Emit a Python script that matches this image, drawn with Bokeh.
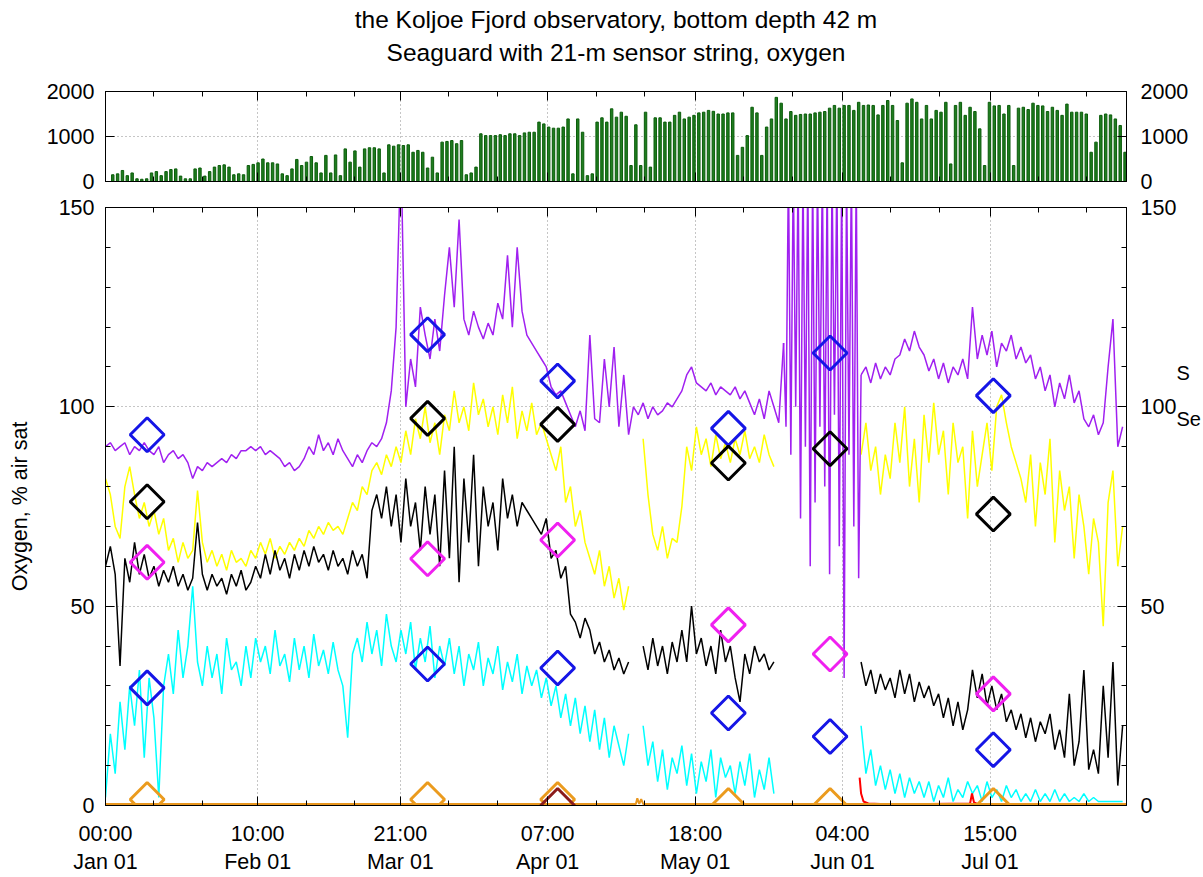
import numpy as np
from bokeh.plotting import figure
from bokeh.models import Range1d, LinearAxis, FixedTicker, Title, CustomJSTickFormatter
from bokeh.layouts import column
from bokeh.embed import file_html
from bokeh.resources import INLINE

nan = float("nan")
FONT = "Liberation Sans"

# ---------------- data ----------------
# time axis in days since Jan 01 00:00 (leap year)
tick_days = [0.0, 31 + 10/24, 60 + 21/24, 91 + 7/24, 121 + 18/24, 152 + 4/24, 182 + 15/24]
tick_labels = ["00:00\nJan 01", "10:00\nFeb 01", "21:00\nMar 01", "07:00\nApr 01",
               "18:00\nMay 01", "04:00\nJun 01", "15:00\nJul 01"]
minor_days = [d + k for d in tick_days for k in (10, 20)]

days = list(range(211))

purple = [
    90, 91, 89, 90, 91, 88, 90, 89, 91, 89,
    88, 90, 86, 88, 89, 87, 88, 86, 82, 85,
    84, 86, 85, 86, 87, 86, 88, 87, 89, 89,
    90, 89, 90, 88, 89, 88, 87, 85, 86, 84,
    85, 87, 90, 88, 93, 89, 91, 88, 92, 89,
    87, 85, 88, 86, 89, 91, 90, 92, 96, 104,
    120, 165, 100, 112, 105, 125, 118, 112, 122, 114,
    128, 140, 125, 147, 122, 118, 124, 120, 117, 121,
    118, 126, 122, 138, 120, 140, 124, 118, 116, 114,
    112, 110, 105, 103, 104, 101, 98, 95, 99, 94,
    118, 97, 96, 112, 100, 115, 95, 108, 93, 100,
    98, 101, 97, 100, 98, 99, 101, 100, 102, 104,
    108, 110, 106, 105, 104, 106, 103, 105, 104, 103,
    105, 102, 104, 101, 98, 102, 97, 104, 100, 96,
    116, nan, nan, nan, nan, nan, nan, nan, nan, nan,
    nan, nan, nan, nan, nan, nan,
    108, 110, 106, 111,
    107, 110, 108, 112, 113, 117, 114, 119, 115, 113,
    109, 112, 107, 111, 106, 110, 108, 112, 107, 125,
    112, 118, 113, 119, 110, 116, 114, 118, 112, 115,
    111, 113, 107, 110, 104, 108, 100, 106, 102, 108,
    101, 104, 97, 95, 98, 93, 96, 110, 122, 90,
    95]

# strongly oscillating stretch of the purple record, half-day samples from day 140 to 156
burst_day = [140 + 0.5 * i for i in range(33)]
burst_val = [116, 95, 160, 88, 160, 100, 160, 72, 160, 90,
             160, 60, 160, 76, 160, 95, 160, 80, 160, 58,
             160, 98, 160, 65, 160, 32, 160, 88, 160, 70,
             160, 57, 108]

yellow = [
    82, 78, 70, 67, 80, 85, 78, 72, 76, 70,
    74, 68, 72, 64, 67, 61, 66, 62, 64, 79,
    66, 61, 64, 60, 63, 59, 64, 61, 62, 60,
    64, 62, 66, 63, 67, 62, 65, 63, 66, 64,
    67, 65, 69, 67, 70, 68, 71, 69, 70, 68,
    72, 76, 74, 80, 78, 84, 86, 83, 88, 85,
    90, 86, 94, 88, 97, 92, 100, 91, 96, 88,
    98, 94, 104, 96, 100, 94, 106, 98, 102, 95,
    100, 93, 103, 96, 105, 92, 99, 94, 101, 93,
    96, 92, 88, 84, 90, 76, 80, 70, 74, 66,
    62, 58, 64, 55, 60, 52, 57, 49, 55, nan,
    nan, 92, 78, 68, 64, 70, 62, 67, 66, 75,
    90, 84, 95, 88, 92, 85, 93, 87, 91, 86,
    92, 88, 94, 87, 90, 86, 93, 88, 85, nan,
    nan, nan, nan, nan, nan, nan, nan, nan, nan, nan,
    nan, nan, nan, nan, nan, nan,
    88, 96, 84, 90,
    78, 88, 82, 96, 86, 100, 80, 92, 76, 98,
    86, 101, 88, 94, 78, 96, 86, 90, 72, 94,
    80, 88, 96, 84, 100, 103, 96, 90, 86, 82,
    76, 88, 70, 86, 78, 92, 66, 84, 74, 80,
    62, 78, 70, 58, 72, 66, 45, 76, 84, 60,
    70]

black = [
    60, 65, 58, 35, 62, 56, 66, 58, 63, 57,
    60, 55, 59, 56, 60, 55, 58, 54, 57, 71,
    58, 54, 58, 55, 57, 53, 58, 55, 59, 54,
    56, 60, 57, 63, 58, 64, 59, 62, 57, 63,
    59, 64, 60, 65, 61, 63, 59, 64, 60, 62,
    58, 64, 60, 63, 57, 74, 78, 72, 80, 70,
    78, 66, 82, 70, 76, 64, 80, 68, 78, 60,
    84, 62, 90, 56, 82, 66, 88, 60, 80, 70,
    76, 64, 82, 72, 78, 70, 76, 74, 72, 70,
    68, 72, 62, 64, 57, 60, 48, 46, 42, 47,
    44, 38, 41, 36, 39, 34, 37, 33, 36, nan,
    nan, 40, 34, 42, 35, 40, 33, 41, 36, 44,
    36, 50, 38, 42, 35, 40, 33, 44, 36, 40,
    32, 26, 38, 33, 40, 36, 38, 34, 36, nan,
    nan, nan, nan, nan, nan, nan, nan, nan, nan, nan,
    nan, nan, nan, nan, nan, nan,
    36, 30, 34, 28,
    33, 29, 32, 27, 34, 28, 33, 26, 31, 27,
    30, 25, 28, 22, 27, 20, 26, 19, 24, 34,
    27, 33, 25, 30, 24, 28, 21, 24, 19, 23,
    17, 22, 16, 21, 18, 23, 14, 19, 12, 28,
    10, 16, 34, 9, 14, 8, 30, 12, 36, 5,
    20]

cyan = [
    2, 18, 8, 26, 14, 30, 20, 34, 12, 32,
    22, 2, 30, 38, 28, 44, 32, 40, 55, 36,
    30, 40, 32, 38, 28, 42, 34, 36, 30, 40,
    32, 42, 36, 40, 33, 44, 35, 38, 31, 42,
    34, 40, 32, 43, 35, 39, 33, 41, 34, 30,
    17, 38, 42, 36, 46, 38, 44, 35, 48, 40,
    36, 44, 38, 46, 34, 42, 36, 45, 32, 40,
    35, 42, 33, 40, 30, 38, 34, 41, 30, 37,
    33, 40, 29, 36, 31, 38, 28, 35, 30, 34,
    27, 32, 25, 30, 22, 28, 20, 27, 18, 25,
    16, 24, 14, 22, 12, 20, 15, 10, 18, nan,
    nan, 20, 10, 16, 6, 14, 4, 12, 8, 15,
    5, 13, 3, 11, 6, 14, 2, 12, 7, 10,
    3, 11, 5, 13, 2, 9, 4, 12, 3, nan,
    nan, nan, nan, nan, nan, nan, nan, nan, nan, nan,
    nan, nan, nan, nan, nan, nan,
    20, 8, 14, 5,
    10, 4, 9, 3, 8, 2, 7, 3, 6, 2,
    6, 1, 5, 2, 7, 1, 4, 2, 6, 3,
    5, 1, 6, 2, 4, 1, 5, 2, 4, 1,
    3, 1, 4, 1, 3, 1, 4, 1, 3, 1,
    2, 1, 3, 1, 2, 1, 1, 1, 1, 1,
    1]

red_day = [155.7, 156.0, 156.5, 157.5, 160, 170, 178.5, 178.9, 179.3, 180, 190, 200, 210.7]
red_val = [7, 3, 1, 0.5, 0.4, 0.4, 0.5, 3, 0.8, 0.4, 0.4, 0.4, 0.4]

orange_day = [0, 109.5, 109.8, 110.2, 110.6, 111.0, 210.8]
orange_val = [0.4, 0.4, 1.8, 0.4, 1.6, 0.4, 0.4]

# discrete samples (diamonds)
samp_day = [8.6, 66.5, 93.35, 128.6, 149.6, 183.3]
samp_blue_hi = [93.0, 118.1, 106.5, 94.6, 113.5, 102.8]
samp_black = [76.2, 97.1, 95.6, 85.9, 89.5, 73.1]
samp_magenta = [61.0, 61.9, 66.6, 45.3, 38.0, 28.0]
samp_blue_lo = [29.5, 35.5, 34.5, 23.2, 17.3, 14.0]
samp_orange = [1.5, 1.5, 1.5, 0.0, 0.0, 0.0]
samp_darkred_day = [93.35]
samp_darkred = [0.0]

# daily light peaks, days 1..210
par_peak = [
    150, 170, 245, 130, 190, 60, 50, 60, 190, 220,
    130, 220, 265, 280, 120, 60, 60, 280, 300, 120,
    220, 320, 355, 370, 320, 150, 170, 150, 355, 380,
    415, 500, 415, 415, 390, 170, 130, 280, 490, 355,
    430, 555, 415, 190, 580, 190, 590, 130, 725, 430,
    680, 320, 725, 750, 750, 725, 190, 815, 785, 815,
    800, 815, 650, 690, 650, 300, 540, 190, 875, 890,
    910, 840, 910, 150, 190, 320, 1060, 1020, 1020, 1020,
    1040, 1020, 1060, 1060, 1020, 1080, 1095, 1095, 1320, 1280,
    1210, 1185, 1185, 1210, 1390, 170, 1390, 1095, 130, 170,
    1320, 1415, 1320, 1615, 1430,
    1540, 1450, 355, 1260, 355, 1540, 320, 1415, 1415, 1320,
    1320, 1470, 1540, 1390, 1430, 1470, 1525, 1540, 1580, 1560,
    1500, 1500, 1525, 1525, 580, 760, 1020, 1650, 1525, 580,
    1210, 1390, 1870, 1740, 1390, 1555, 1470, 1490, 1500, 1500,
    1525, 1540, 1555, 1630, 1690, 1630, 1690, 1690, 1580, 1760,
    1690, 1700, 1690, 1480, 1690, 1800, 1690, 1355, 415, 1740,
    1835, 1760, 1390, 1690, 1390, 1580, 1540, 1760, 390, 1690,
    1760, 1470, 1650, 1555, 1170, 355, 1760, 1680, 1690, 1500,
    1690, 355, 1630, 1650, 1600, 1740, 1690, 1680, 1555, 1650,
    1580, 1470, 1720, 1540, 1540, 1540, 1500, 650, 875, 1470,
    1500, 1480, 1390, 1245, 650]
par_day = [d + 0.5 for d in range(1, 211)]

# texts at the right edge of the main panel (partly visible in the original)
edge_text_pos = [108.5, 97.0]
edge_text = ["S", "Se"]

X0, X1 = 0.0, 210.8

# ---------------- helpers ----------------
xticker = FixedTicker(ticks=tick_days, minor_ticks=minor_days)
xlabels = {t: l for t, l in zip(tick_days, tick_labels)}
blank = CustomJSTickFormatter(code="return ''")


def style_axis(ax, ticker, labels=True, standoff=11):
    ax.ticker = ticker
    ax.major_tick_in = 9
    ax.major_tick_out = 0
    ax.minor_tick_in = 5
    ax.minor_tick_out = 0
    ax.axis_line_color = "black"
    ax.major_tick_line_color = "black"
    ax.minor_tick_line_color = "black"
    ax.major_label_text_font = FONT
    ax.major_label_text_font_size = "21.5px"
    ax.major_label_text_color = "black"
    ax.major_label_standoff = standoff
    if not labels:
        ax.formatter = blank
        ax.major_label_standoff = 0


def base_fig(height, yr, top_border, bottom_border):
    p = figure(width=1203, height=height, x_range=Range1d(X0, X1), y_range=yr,
               output_backend="svg", toolbar_location=None,
               min_border_left=105, min_border_right=72,
               min_border_top=top_border, min_border_bottom=bottom_border)
    p.outline_line_color = "black"
    p.background_fill_color = "white"
    p.border_fill_color = "white"
    p.xgrid.ticker = xticker
    p.xgrid.grid_line_color = "#8c8c8c"
    p.xgrid.grid_line_dash = "1 3"
    p.ygrid.grid_line_color = "#8c8c8c"
    p.ygrid.grid_line_dash = "1 3"
    return p


# ---------------- top panel ----------------
top = base_fig(194, Range1d(0, 2000), 91, 13)
top_y = FixedTicker(ticks=[0, 1000, 2000], minor_ticks=[])
top.ygrid.ticker = FixedTicker(ticks=[1000])
style_axis(top.xaxis[0], xticker, labels=False)
style_axis(top.yaxis[0], top_y)
ax_r = LinearAxis()
style_axis(ax_r, top_y, standoff=14)
top.add_layout(ax_r, "right")
ax_t = LinearAxis()
style_axis(ax_t, xticker, labels=False)
top.add_layout(ax_t, "above")

top.vbar(x=par_day, top=par_peak, width=0.5, fill_color="#1f7d1f",
         line_color="#0a5c0a", line_width=1)

top.add_layout(Title(text="Seaguard with 21-m sensor string, oxygen", align="center",
                     text_font=FONT, text_font_size="24.5px", text_font_style="normal",
                     text_color="black", standoff=52), "above")
top.add_layout(Title(text="the Koljoe Fjord observatory, bottom depth 42 m", align="center",
                     text_font=FONT, text_font_size="24.5px", text_font_style="normal",
                     text_color="black", standoff=-44), "above")

# ---------------- main panel ----------------
main = base_fig(683, Range1d(0, 150), 13, 70)
main_y = FixedTicker(ticks=[0, 50, 100, 150],
                     minor_ticks=[10, 20, 30, 40, 60, 70, 80, 90, 110, 120, 130, 140])
main.ygrid.ticker = FixedTicker(ticks=[50, 100])
style_axis(main.xaxis[0], xticker, standoff=16)
main.xaxis[0].major_label_overrides = xlabels
style_axis(main.yaxis[0], main_y)
main.yaxis[0].axis_label = "Oxygen, % air sat"
main.yaxis[0].axis_label_text_font = FONT
main.yaxis[0].axis_label_text_font_size = "21.5px"
main.yaxis[0].axis_label_text_font_style = "normal"
main.yaxis[0].axis_label_text_color = "black"
main.yaxis[0].axis_label_standoff = 24
m_r = LinearAxis()
style_axis(m_r, main_y, standoff=14)
main.add_layout(m_r, "right")
m_t = LinearAxis()
style_axis(m_t, xticker, labels=False)
main.add_layout(m_t, "above")

se_ax = LinearAxis(ticker=FixedTicker(ticks=edge_text_pos, minor_ticks=[]),
                   major_label_overrides={p_: t_ for p_, t_ in zip(edge_text_pos, edge_text)})
se_ax.axis_line_color = None
se_ax.major_tick_line_color = None
se_ax.minor_tick_line_color = None
se_ax.major_tick_in = 0
se_ax.major_tick_out = 0
se_ax.minor_tick_in = 0
se_ax.minor_tick_out = 0
se_ax.major_label_standoff = -3
se_ax.major_label_text_font = FONT
se_ax.major_label_text_font_size = "20px"
se_ax.major_label_text_color = "black"
main.add_layout(se_ax, "right")

lw = 1.5
main.line(days, yellow, line_color="#ffff00", line_width=lw)
main.line(days, cyan, line_color="#00ffff", line_width=lw)
main.line(days, black, line_color="black", line_width=lw)
main.line(days, purple, line_color="#a020f0", line_width=lw)
main.line(burst_day, burst_val, line_color="#a020f0", line_width=lw)
main.line(red_day, red_val, line_color="#ff0000", line_width=2)
main.line(orange_day, orange_val, line_color="#e8961e", line_width=2)

dkw = dict(marker="square", angle=np.pi / 4, size=24, fill_color=None, line_width=3)
main.scatter(samp_day, samp_blue_hi, line_color="#1515e6", **dkw)
main.scatter(samp_day, samp_black, line_color="black", **dkw)
main.scatter(samp_day, samp_magenta, line_color="#f020f0", **dkw)
main.scatter(samp_day, samp_blue_lo, line_color="#1515e6", **dkw)
main.scatter(samp_day, samp_orange, line_color="#eb9b1e", **dkw)
main.scatter(samp_darkred_day, samp_darkred, line_color="#8b1c1c", **dkw)

layout = column(top, main)
open("out.html", "w").write(file_html(layout, INLINE))
